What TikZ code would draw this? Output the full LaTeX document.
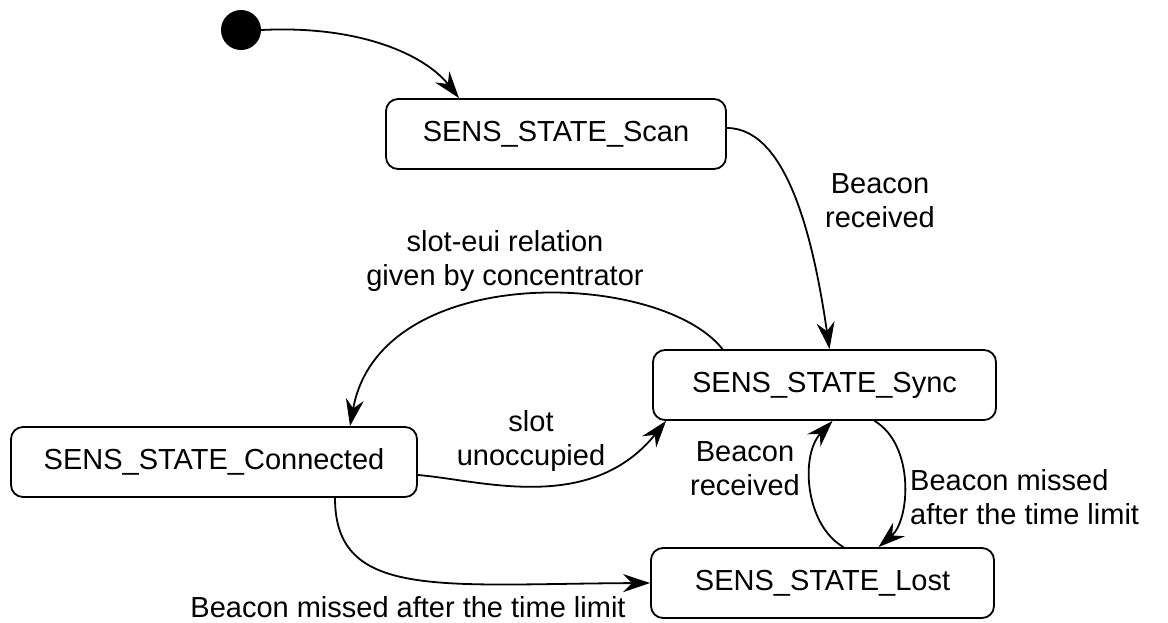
\documentclass[tikz,border=0pt]{standalone}
\usepackage{fontspec}
\setmainfont{Liberation Sans}
\usetikzlibrary{arrows.meta}
\begin{document}
\begin{tikzpicture}[x=1pt,y=-1pt,
  state/.style={draw, line width=1.8pt, rounded corners=12pt, inner sep=0pt, minimum height=70pt, font=\fontsize{29}{34}\selectfont},
  lbl/.style={inner sep=0pt, align=center, font=\fontsize{29}{34}\selectfont},
  tr/.style={draw, line width=1.8pt, arrows={-Stealth[length=27pt,width=18pt,inset=9pt]}}
]
\useasboundingbox (0,0) rectangle (1168,622);
\node[circle, fill=black, minimum size=40pt, inner sep=0pt] (init) at (241,30) {};
\node[state, minimum width=340pt] (scan) at (556,134) {SENS\_STATE\_Scan};
\node[state, minimum width=343pt] (sync) at (824.5,385) {SENS\_STATE\_Sync};
\node[state, minimum width=406pt] (conn) at (214,462) {SENS\_STATE\_Connected};
\node[state, minimum width=343pt] (lost) at (822.5,583) {SENS\_STATE\_Lost};

\draw[tr] (init.east) .. controls (360,25) and (425,55) .. ([xshift=-97pt]scan.north);
\draw[tr] ([yshift=6pt]scan.east) .. controls (790,128) and (815,250) .. ([xshift=5pt]sync.north);
\draw[tr] ([xshift=-102pt]sync.north) .. controls (660,270) and (380,260) .. ([xshift=136pt]conn.north);
\draw[tr] ([yshift=-13pt]conn.east) .. controls (480,480) and (590,515) .. ([xshift=14pt]sync.south west);
\draw[tr] ([xshift=121pt]conn.south) .. controls (335,600) and (440,584) .. (lost.west);
\draw[tr] ([xshift=50pt]sync.south) .. controls (915,445) and (910,520) .. ([xshift=56pt]lost.north);
\draw[tr] ([xshift=21pt]lost.north) .. controls (805,525) and (800,455) .. ([xshift=8pt]sync.south);

\node[lbl] (l1) at (880,201) {Beacon\\received};
\node[lbl] (l2) at (505,261) {slot-eui relation\\given by concentrator};
\node[lbl] (l3) at (531,441) {slot\\unoccupied};
\node[lbl] (l4) at (745,469) {Beacon\\received};
\node[lbl, align=left, anchor=west] (l5) at (910,497) {Beacon missed\\after the time limit};
\node[lbl] (l6) at (408,607.5) {Beacon missed after the time limit};
\end{tikzpicture}
\end{document}
